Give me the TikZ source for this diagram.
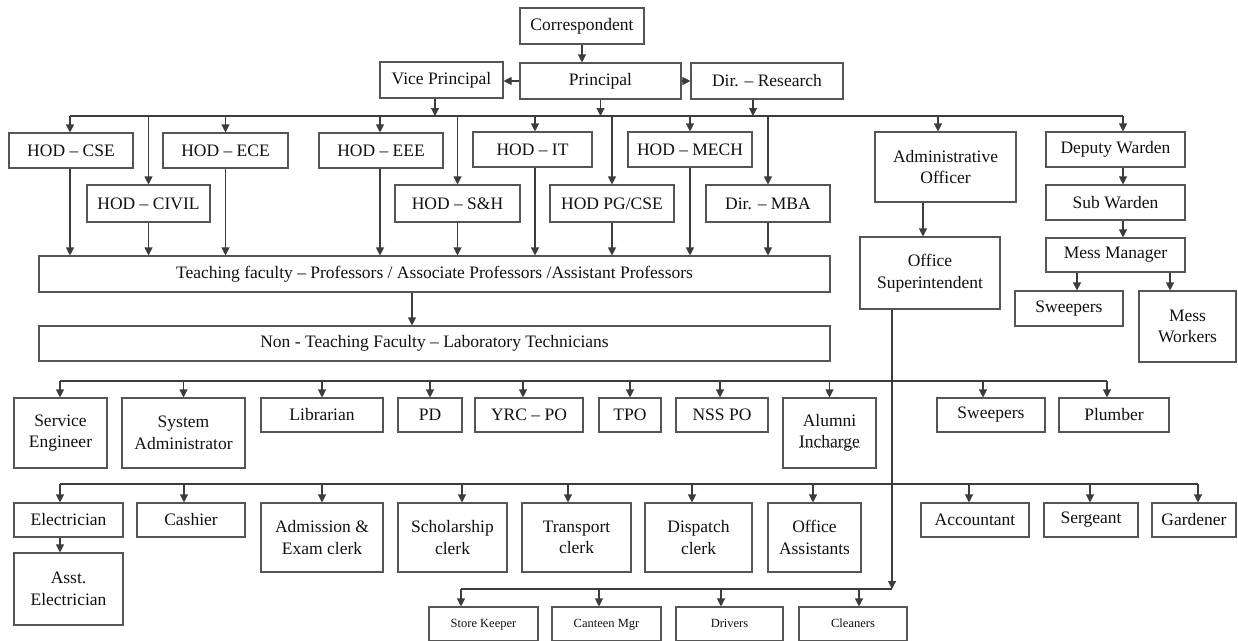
\documentclass[tikz,border=0pt]{standalone}
\usepackage{fontspec}
\setmainfont{Liberation Serif}
\usetikzlibrary{arrows.meta,shadows}
\definecolor{linec}{HTML}{3C3C3C}
\definecolor{boxc}{HTML}{555555}
\definecolor{textc}{HTML}{111111}
\newcommand\mkbox[6]{\node[box,minimum width=#4pt,minimum height=#5pt] (#1) at (#2,#3) {#6};}
\newcommand\smbox[5]{\node[box,font=\fontsize{12.5}{15}\selectfont,text height=8.5pt,text depth=2.5pt,minimum width=#4pt,minimum height=34pt] (#1) at (#2,#3) {#5};}
\newcommand\busarrow[3]{\draw[arr] ([xshift=#3]#2.north |- #1) -- ([xshift=#3]#2.north);}
\newcommand\downarr[3]{\draw[arr] ([xshift=#3]#1.south) -- ([xshift=#3]#1.south |- #2.north);}
\begin{document}
\begin{tikzpicture}[x=1pt,y=-1pt,
  box/.style={draw=boxc,line width=1.1pt,fill=white,inner sep=0pt,align=center,
    text=textc,font=\fontsize{17.5}{21.5}\selectfont,
    drop shadow={shadow xshift=1.2pt,shadow yshift=-1.2pt,fill=black!30,opacity=0.5}},
  ln/.style={draw=linec,line width=1.1pt},
  arr/.style={ln,-{Triangle[length=8pt,width=8pt]}}]
\path[use as bounding box] (0,0) rectangle (1238,640);
\clip (0,0) rectangle (1238,640);
\fill[white] (0,0) rectangle (1238,640);

% top management
\mkbox{corr}{582}{26}{124}{36}{Correspondent}
\mkbox{vp}{441.5}{80}{123}{36}{Vice Principal}
\mkbox{principal}{600.5}{81}{161}{36}{Principal}
\mkbox{dirr}{767}{81}{152}{36}{Dir. – Research}

% HODs
\mkbox{hodcse}{71}{150.5}{124}{35}{HOD – CSE}
\mkbox{hodece}{225.5}{150.5}{125}{35}{HOD – ECE}
\mkbox{hodeee}{381}{150.5}{124}{35}{HOD – EEE}
\mkbox{hodit}{532.5}{149.5}{119}{35}{HOD – IT}
\mkbox{hodmech}{690}{149.5}{124}{35}{HOD – MECH}
\mkbox{hodcivil}{148.5}{203.5}{123}{37}{HOD – CIVIL}
\mkbox{hodsh}{457.5}{203.5}{125}{37}{HOD – S\&H}
\mkbox{hodpg}{612}{203.5}{124}{37}{HOD PG/CSE}
\mkbox{dirmba}{768}{203.5}{124}{37}{Dir. – MBA}

% admin and hostel
\mkbox{admin}{945.5}{167}{141}{70}{Administrative\\Officer}
\mkbox{office}{930}{273}{140}{72}{Office\\Superintendent}
\mkbox{deputy}{1115.5}{149.5}{139}{35}{Deputy Warden}
\mkbox{subw}{1115.5}{202.5}{139}{35}{Sub Warden}
\mkbox{messm}{1115.5}{255}{139}{34}{Mess Manager}
\mkbox{sweepa}{1069}{308.5}{108}{35}{Sweepers}
\mkbox{messw}{1187.5}{326.5}{97}{71}{Mess\\Workers}

% faculty
\mkbox{teach}{434.5}{274}{791}{36}{Teaching faculty – Professors / Associate Professors /Assistant Professors}
\mkbox{nonteach}{434.5}{343.5}{791}{35}{Non - Teaching Faculty – Laboratory Technicians}

% row 3
\mkbox{serv}{60.5}{433}{93}{70}{Service\\Engineer}
\mkbox{sysad}{183.5}{433}{123}{70}{System\\Administrator}
\mkbox{lib}{322}{415}{122}{34}{Librarian}
\mkbox{pd}{430}{415}{64}{34}{PD}
\mkbox{yrc}{529}{415}{108}{34}{YRC – PO}
\mkbox{tpo}{630}{415}{62}{34}{TPO}
\mkbox{nss}{722}{415}{92}{34}{NSS PO}
\mkbox{alumni}{829.5}{433}{93}{70}{Alumni\\Incharge}
\mkbox{sweepb}{991}{415}{108}{34}{Sweepers}
\mkbox{plumber}{1114}{415}{110}{34}{Plumber}

% row 4
\mkbox{elec}{68.5}{520}{109}{34}{Electrician}
\mkbox{asst}{68.5}{589}{109}{72}{Asst.\\Electrician}
\mkbox{cash}{191}{520}{108}{34}{Cashier}
\mkbox{adm}{322}{537.5}{122}{69}{Admission \&\\Exam clerk}
\mkbox{schol}{452.5}{537.5}{109}{69}{Scholarship\\clerk}
\mkbox{trans}{576.5}{537.5}{109}{69}{Transport\\clerk}
\mkbox{disp}{698.5}{537.5}{107}{69}{Dispatch\\clerk}
\mkbox{offa}{814.5}{537.5}{93}{69}{Office\\Assistants}
\mkbox{acct}{975}{520}{108}{34}{Accountant}
\mkbox{serg}{1091}{520}{94}{34}{Sergeant}
\mkbox{gard}{1194}{520}{84}{34}{Gardener}

% row 5
\smbox{store}{483.5}{624}{109}{Store Keeper}
\smbox{cant}{606.5}{624}{109}{Canteen Mgr}
\smbox{driv}{729.5}{624}{107}{Drivers}
\smbox{clean}{853}{624}{108}{Cleaners}

% spell-check underline
\draw[red!85,densely dotted,line width=0.9pt] ([xshift=-31pt,yshift=-14pt]alumni.center) -- ([xshift=31pt,yshift=-14pt]alumni.center);

% bus coordinates
\coordinate (bus1) at (70,116);   \coordinate (bus1e) at (1123,116);
\coordinate (bus3) at (60,381);   \coordinate (bus3e) at (1107,381);
\coordinate (bus4) at (60,484);   \coordinate (bus4e) at (1198,484);
\coordinate (bus5) at (461,589);  \coordinate (bus5e) at (892,589);

% top connectors
\draw[arr] (corr.south) -- (corr.south |- principal.north);
\draw[arr] (principal.west) -- (principal.west -| vp.east);
\draw[arr] (principal.east) -- (principal.east -| dirr.west);
\draw[ln] (bus1) -- (bus1e);
\draw[arr] ([xshift=-6.5pt]vp.south) -- ([xshift=-6.5pt]vp.south |- bus1);
\draw[arr] (principal.south) -- (principal.south |- bus1);
\draw[arr] ([xshift=-14pt]dirr.south) -- ([xshift=-14pt]dirr.south |- bus1);

\busarrow{bus1}{hodcse}{-1pt}
\busarrow{bus1}{hodcivil}{0pt}
\busarrow{bus1}{hodece}{0pt}
\busarrow{bus1}{hodeee}{-1pt}
\busarrow{bus1}{hodsh}{0pt}
\busarrow{bus1}{hodit}{2.5pt}
\busarrow{bus1}{hodpg}{0pt}
\busarrow{bus1}{hodmech}{0pt}
\busarrow{bus1}{dirmba}{0pt}
\busarrow{bus1}{admin}{-7.5pt}
\busarrow{bus1}{deputy}{7.5pt}

% HODs to teaching faculty
\downarr{hodcse}{teach}{-1pt}
\downarr{hodcivil}{teach}{0pt}
\downarr{hodece}{teach}{0pt}
\downarr{hodeee}{teach}{-1pt}
\downarr{hodsh}{teach}{0pt}
\downarr{hodit}{teach}{2.5pt}
\downarr{hodpg}{teach}{0pt}
\downarr{hodmech}{teach}{0pt}
\downarr{dirmba}{teach}{0pt}
\downarr{teach}{nonteach}{-22.5pt}

% admin / hostel chain
\downarr{admin}{office}{-22.5pt}
\downarr{deputy}{subw}{7.5pt}
\downarr{subw}{messm}{7.5pt}
\downarr{messm}{sweepa}{-38.5pt}
\downarr{messm}{messw}{54.5pt}

% row 3
\draw[ln] (bus3) -- (bus3e);
\busarrow{bus3}{serv}{-0.5pt}
\busarrow{bus3}{sysad}{0pt}
\busarrow{bus3}{lib}{0pt}
\busarrow{bus3}{pd}{0pt}
\busarrow{bus3}{yrc}{-6pt}
\busarrow{bus3}{tpo}{0pt}
\busarrow{bus3}{nss}{-2pt}
\busarrow{bus3}{alumni}{0pt}
\busarrow{bus3}{sweepb}{-8pt}
\busarrow{bus3}{plumber}{-7pt}

% row 4
\draw[ln] (bus4) -- (bus4e);
\busarrow{bus4}{elec}{-8.5pt}
\busarrow{bus4}{cash}{-7pt}
\busarrow{bus4}{adm}{0pt}
\busarrow{bus4}{schol}{9.5pt}
\busarrow{bus4}{trans}{-8.5pt}
\busarrow{bus4}{disp}{-6.5pt}
\busarrow{bus4}{offa}{-1.5pt}
\busarrow{bus4}{acct}{-6pt}
\busarrow{bus4}{serg}{-1pt}
\busarrow{bus4}{gard}{4pt}
\downarr{elec}{asst}{-8.5pt}

% office superintendent line and row 5
\draw[arr] ([xshift=-38pt]office.south) -- ([xshift=-38pt]office.south |- bus5);
\draw[ln] (bus5) -- (bus5e);
\busarrow{bus5}{store}{-22.5pt}
\busarrow{bus5}{cant}{-7.5pt}
\busarrow{bus5}{driv}{-8.5pt}
\busarrow{bus5}{clean}{6pt}
\end{tikzpicture}
\end{document}
